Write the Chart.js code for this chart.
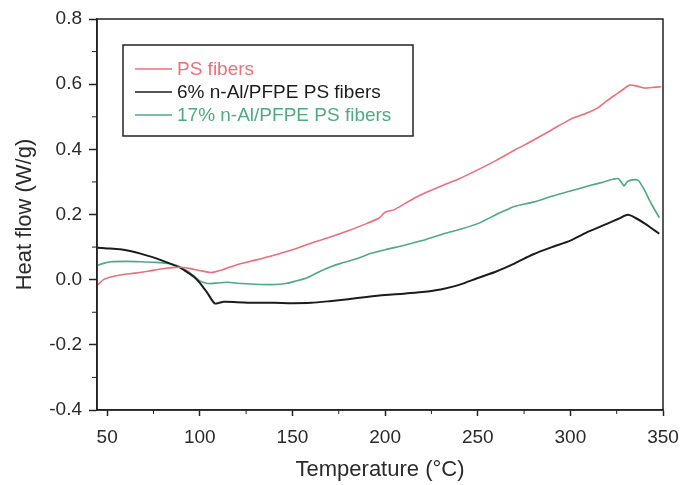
<!DOCTYPE html>
<html>
<head>
<meta charset="utf-8">
<script src="https://cdn.jsdelivr.net/npm/chart.js@4.4.1/dist/chart.umd.min.js"></script>
<style>
    html, body { margin: 0; padding: 0; background: #ffffff; }
    #wrap { width: 681px; height: 485px; }
</style>
</head>
<body>
<div id="wrap"><canvas id="dscChart" width="681" height="485"></canvas></div>
<script>

const seriesLabels = ["PS fibers", "6% n-Al/PFPE PS fibers", "17% n-Al/PFPE PS fibers"];

const psTemp = [44.5, 48, 52, 58, 65, 72, 78, 85, 90, 95, 100, 106, 112, 120, 130, 140, 150, 160, 170, 180, 190, 197, 200, 205, 212, 220, 230, 240, 250, 260, 270, 280, 290, 300, 310, 315, 320, 325, 328, 332, 336, 340, 344, 349];
const psFlow = [-0.018, 0.0, 0.008, 0.015, 0.02, 0.026, 0.032, 0.037, 0.038, 0.034, 0.028, 0.022, 0.03, 0.046, 0.06, 0.075, 0.092, 0.112, 0.13, 0.15, 0.172, 0.19, 0.207, 0.215, 0.238, 0.262, 0.287, 0.31, 0.337, 0.366, 0.398, 0.428, 0.46, 0.492, 0.514, 0.528, 0.55, 0.57, 0.582, 0.597, 0.594, 0.588, 0.59, 0.592];

const al6Temp = [44.5, 50, 57, 63, 68, 74, 79, 85, 90, 94, 97, 100, 102, 104, 106, 108, 110, 113, 120, 130, 140, 150, 160, 170, 180, 190, 200, 210, 220, 230, 240, 250, 260, 270, 280, 290, 300, 310, 320, 326, 331, 335, 340, 344, 348];
const al6Flow = [0.098, 0.096, 0.093, 0.087, 0.08, 0.07, 0.06, 0.047, 0.035, 0.02, 0.008, -0.01, -0.025, -0.04, -0.058, -0.073, -0.072, -0.068, -0.069, -0.071, -0.071, -0.072, -0.071, -0.066, -0.06, -0.053, -0.047, -0.043, -0.038, -0.03, -0.016, 0.005, 0.025, 0.05, 0.078, 0.1, 0.12, 0.148, 0.172, 0.187, 0.199, 0.19, 0.173, 0.157, 0.141];

const al17Temp = [44.5, 48, 52, 60, 68, 76, 84, 88, 91, 94, 97, 100, 103, 106, 110, 115, 120, 130, 140, 147, 152, 158, 165, 170, 176, 185, 192, 200, 210, 220, 230, 240, 250, 260, 265, 270, 280, 290, 300, 310, 318, 323, 326, 328, 329, 331, 335, 337, 340, 343, 346, 348];
const al17Flow = [0.043, 0.05, 0.055, 0.056, 0.055, 0.053, 0.049, 0.043, 0.034, 0.024, 0.01, -0.004, -0.01, -0.012, -0.01, -0.008, -0.011, -0.014, -0.015, -0.011, -0.004, 0.006, 0.026, 0.038, 0.05, 0.065, 0.08, 0.092, 0.105, 0.12, 0.138, 0.154, 0.172, 0.2, 0.213, 0.225, 0.238, 0.256, 0.272, 0.288, 0.3, 0.308, 0.31, 0.295, 0.288, 0.302, 0.307, 0.303, 0.275, 0.24, 0.21, 0.19];

const xTicks = [50, 100, 150, 200, 250, 300, 350];
const yTicks = [-0.4, -0.2, 0.0, 0.2, 0.4, 0.6, 0.8];

const colors = ["#ec6f7a", "#1c1c1c", "#4fa982"];

const fontFamily = "Arial, 'Liberation Sans', sans-serif";

function toPoints(xs, ys) {
    return xs.map((x, i) => ({ x: x, y: ys[i] }));
}

// frame, minor ticks and the boxed legend inside the plot
const extrasPlugin = {
    id: "extras",
    afterDraw(chart) {
        const ctx = chart.ctx;
        const area = chart.chartArea;
        const xs = chart.scales.x;
        const ys = chart.scales.y;

        ctx.save();
        ctx.strokeStyle = "#222";
        ctx.lineWidth = 1.5;
        ctx.strokeRect(area.left, area.top, area.right - area.left, area.bottom - area.top);

        ctx.lineWidth = 1;
        for (let t = 75; t < 350; t += 50) {
            const px = xs.getPixelForValue(t);
            ctx.beginPath();
            ctx.moveTo(px, area.bottom);
            ctx.lineTo(px, area.bottom + 4);
            ctx.stroke();
        }
        for (let v = -0.3; v < 0.8; v += 0.2) {
            const py = ys.getPixelForValue(v);
            ctx.beginPath();
            ctx.moveTo(area.left, py);
            ctx.lineTo(area.left - 5, py);
            ctx.stroke();
        }

        // legend box
        ctx.lineWidth = 1.5;
        ctx.strokeStyle = "#222";
        ctx.strokeRect(123, 45, 290, 91);
        ctx.font = "19px " + fontFamily;
        ctx.textBaseline = "middle";
        ctx.textAlign = "left";
        const rowY = [69, 92, 115];
        chart.data.datasets.forEach((ds, i) => {
            ctx.strokeStyle = ds.borderColor;
            ctx.lineWidth = 1.5;
            ctx.beginPath();
            ctx.moveTo(135, rowY[i]);
            ctx.lineTo(172, rowY[i]);
            ctx.stroke();
            ctx.fillStyle = ds.borderColor;
            ctx.fillText(ds.label, 177, rowY[i] + 1);
        });
        ctx.restore();
    }
};

const canvas = document.getElementById("dscChart");

new Chart(canvas, {

    type: "line",

    data: {
        datasets: [
            {
                label: seriesLabels[0],
                data: toPoints(psTemp, psFlow),
                borderColor: colors[0],
                borderWidth: 1.6,
                pointRadius: 0,
                tension: 0.25
            },
            {
                label: seriesLabels[1],
                data: toPoints(al6Temp, al6Flow),
                borderColor: colors[1],
                borderWidth: 2,
                pointRadius: 0,
                tension: 0.25
            },
            {
                label: seriesLabels[2],
                data: toPoints(al17Temp, al17Flow),
                borderColor: colors[2],
                borderWidth: 1.6,
                pointRadius: 0,
                tension: 0.25
            }
        ]
    },

    options: {
        responsive: false,
        animation: false,
        layout: {
            padding: { left: 0, top: 19, right: 18, bottom: 0 }
        },
        plugins: {
            legend: { display: false },
            tooltip: { enabled: false }
        },
        scales: {
            x: {
                type: "linear",
                min: 44.5,
                max: 350,
                afterBuildTicks: scale => {
                    scale.ticks = xTicks.map(v => ({ value: v }));
                },
                afterFit: scale => {
                    scale.height = 75;
                    scale.paddingLeft = 0;
                    scale.paddingRight = 0;
                },
                border: { color: "#222", width: 1.5 },
                grid: {
                    drawOnChartArea: false,
                    drawTicks: true,
                    tickLength: 6,
                    tickColor: "#222",
                    tickWidth: 1.5
                },
                ticks: {
                    padding: 10,
                    color: "#2a2a2a",
                    font: { family: fontFamily, size: 19 },
                    maxRotation: 0,
                    callback: v => String(v)
                },
                title: {
                    display: true,
                    text: "Temperature (°C)",
                    color: "#2a2a2a",
                    font: { family: fontFamily, size: 22 },
                    padding: { top: 0, bottom: 2 }
                }
            },
            y: {
                type: "linear",
                min: -0.4,
                max: 0.8,
                afterBuildTicks: scale => {
                    scale.ticks = yTicks.map(v => ({ value: v }));
                },
                afterFit: scale => {
                    scale.width = 97;
                    scale.paddingTop = 0;
                    scale.paddingBottom = 0;
                },
                border: { color: "#222", width: 1.5 },
                grid: {
                    drawOnChartArea: false,
                    drawTicks: true,
                    tickLength: 8,
                    tickColor: "#222",
                    tickWidth: 1.5
                },
                ticks: {
                    padding: 7,
                    color: "#2a2a2a",
                    font: { family: fontFamily, size: 19 },
                    callback: v => v.toFixed(1)
                },
                title: {
                    display: true,
                    text: "Heat flow (W/g)",
                    color: "#2a2a2a",
                    font: { family: fontFamily, size: 22 },
                    padding: { top: 12, bottom: 0 }
                }
            }
        }
    },

    plugins: [extrasPlugin]

});

</script>
</body>
</html>
